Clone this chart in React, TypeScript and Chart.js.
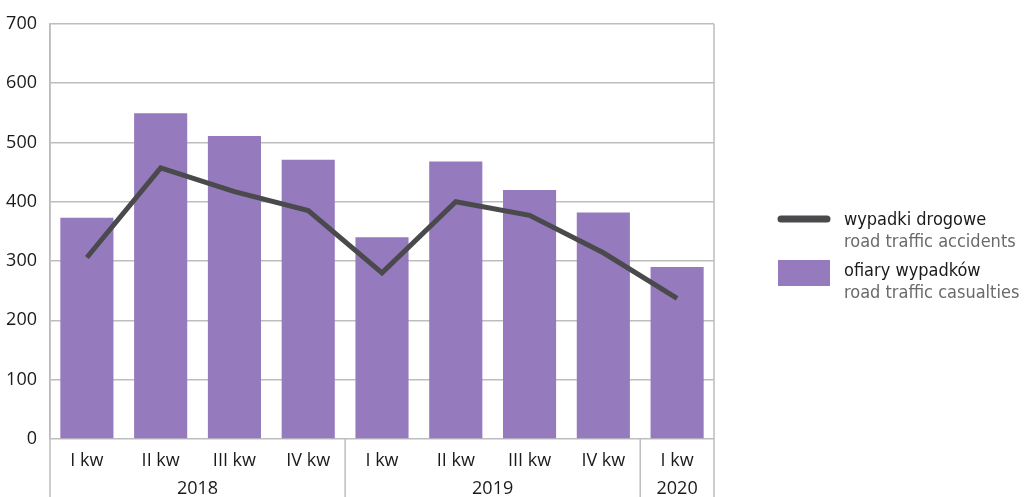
import React, { useEffect, useRef } from "react";
import { Chart, registerables } from "chart.js";

Chart.register(...registerables);

const categories = ["I kw", "II kw", "III kw", "IV kw", "I kw", "II kw", "III kw", "IV kw", "I kw"];
const years = ["2018", "2019", "2020"];
const yearSpans = [4, 4, 1];
const accidents = [306, 457, 417, 385, 280, 400, 377, 314, 237];
const casualties = [373, 549, 511, 471, 340, 468, 420, 382, 290];
const yMin = 0;
const yMax = 700;
const yStep = 100;
const legendItems = [
  { pl: "wypadki drogowe", en: "road traffic accidents", kind: "line" },
  { pl: "ofiary wypadków", en: "road traffic casualties", kind: "box" },
];

const BAR_COLOR = "#957abe";
const LINE_COLOR = "#4a494c";
const GRID_COLOR = "#bdbdbd";
const TEXT_COLOR = "#1a1a1a";
const AXIS_FONT = "'Open Sans', sans-serif";
const LEGEND_FONT = "'Liberation Sans Narrow', 'DejaVu Sans Condensed', sans-serif";

const extrasPlugin = {
  id: "extras",
  afterDraw(chart: any) {
    const { ctx, chartArea, scales } = chart;
    const x = scales.x;
    const H = chart.height;
    ctx.save();
    ctx.strokeStyle = GRID_COLOR;
    ctx.lineWidth = 1.5;
    const bounds: number[] = [chartArea.left];
    let idx = 0;
    yearSpans.forEach((s, i) => {
      idx += s;
      if (i < yearSpans.length - 1) {
        bounds.push((x.getPixelForValue(idx - 1) + x.getPixelForValue(idx)) / 2);
      }
    });
    bounds.push(chartArea.right);
    bounds.forEach((bx, i) => {
      const top = i === 0 || i === bounds.length - 1 ? chartArea.top : chartArea.bottom;
      ctx.beginPath();
      ctx.moveTo(bx, top);
      ctx.lineTo(bx, H);
      ctx.stroke();
    });
    ctx.fillStyle = TEXT_COLOR;
    ctx.font = `18px ${AXIS_FONT}`;
    ctx.textAlign = "center";
    ctx.textBaseline = "middle";
    years.forEach((y, i) => {
      ctx.fillText(y, (bounds[i] + bounds[i + 1]) / 2, chartArea.bottom + 50);
    });
    const lx = 778;
    const tx = 844;
    legendItems.forEach((it, i) => {
      const cy = 219 + i * 51;
      if (it.kind === "line") {
        ctx.strokeStyle = LINE_COLOR;
        ctx.lineWidth = 7;
        ctx.lineCap = "round";
        ctx.beginPath();
        ctx.moveTo(lx + 3, cy);
        ctx.lineTo(lx + 49, cy);
        ctx.stroke();
      } else {
        ctx.fillStyle = BAR_COLOR;
        ctx.fillRect(lx, cy - 10, 52, 26);
      }
      ctx.textAlign = "left";
      ctx.font = `18px ${LEGEND_FONT}`;
      ctx.fillStyle = TEXT_COLOR;
      ctx.fillText(it.pl, tx, cy + 1);
      ctx.fillStyle = "#6a6a6a";
      ctx.fillText(it.en, tx, cy + 23);
    });
    ctx.restore();
  },
};

export default function App() {
  const ref = useRef<HTMLCanvasElement>(null);
  useEffect(() => {
    document.body.style.margin = "0";
    const chart = new Chart(ref.current as HTMLCanvasElement, {
      type: "bar",
      data: {
        labels: categories,
        datasets: [
          {
            type: "line",
            label: legendItems[0].pl,
            data: accidents,
            borderColor: LINE_COLOR,
            borderWidth: 5,
            pointRadius: 0,
            tension: 0,
            order: 0,
          } as any,
          {
            type: "bar",
            label: legendItems[1].pl,
            data: casualties,
            backgroundColor: BAR_COLOR,
            barPercentage: 0.72,
            categoryPercentage: 1,
            order: 1,
          },
        ],
      },
      options: {
        animation: false,
        responsive: true,
        maintainAspectRatio: false,
        layout: { padding: { top: 23, right: 315, left: 0, bottom: 0 } },
        plugins: { legend: { display: false }, tooltip: { enabled: false } },
        scales: {
          x: {
            grid: { display: false },
            border: { display: false },
            ticks: { color: TEXT_COLOR, font: { family: AXIS_FONT, size: 18 }, padding: 3, maxRotation: 0, autoSkip: false },
            afterFit: (s: any) => { s.height = 58; },
          },
          y: {
            min: yMin,
            max: yMax,
            grid: { color: GRID_COLOR, lineWidth: 1.5, drawTicks: false },
            border: { display: true, color: GRID_COLOR, width: 1.5 },
            ticks: { stepSize: yStep, color: TEXT_COLOR, font: { family: AXIS_FONT, size: 18 }, padding: 13 },
            afterFit: (s: any) => { s.width = 50; },
          },
        },
      },
      plugins: [extrasPlugin],
    });
    return () => chart.destroy();
  }, []);
  return (
    <div style={{ width: 1029, height: 497, position: "relative", background: "#fff" }}>
      <canvas ref={ref} />
    </div>
  );
}
